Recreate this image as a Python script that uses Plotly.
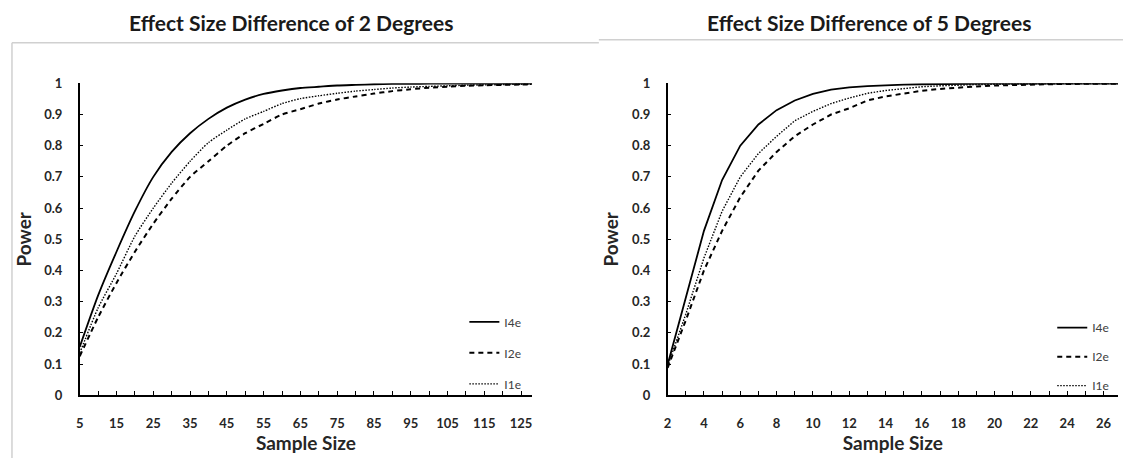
import plotly.graph_objects as go

# ---------------- data ----------------
# Left chart: effect size difference of 2 degrees
n_left = [5, 10, 15, 20, 25, 30, 35, 40, 45, 50, 55, 60, 65, 70, 75, 80, 85, 90,
          95, 100, 105, 110, 115, 120, 125, 128]
i4e_left = [0.155, 0.32, 0.46, 0.59, 0.70, 0.78, 0.84, 0.886, 0.922, 0.948, 0.966,
            0.977, 0.985, 0.989, 0.993, 0.995, 0.997, 0.998, 0.998, 0.999, 0.999,
            0.999, 0.999, 0.999, 0.999, 0.999]
i2e_left = [0.125, 0.25, 0.36, 0.46, 0.55, 0.63, 0.70, 0.75, 0.80, 0.84, 0.87,
            0.90, 0.917, 0.935, 0.948, 0.958, 0.967, 0.975, 0.981, 0.986, 0.989,
            0.992, 0.994, 0.995, 0.996, 0.997]
i1e_left = [0.135, 0.28, 0.39, 0.51, 0.60, 0.68, 0.75, 0.81, 0.85, 0.886, 0.91,
            0.935, 0.951, 0.96, 0.968, 0.975, 0.98, 0.985, 0.988, 0.99, 0.992,
            0.994, 0.995, 0.996, 0.997, 0.997]

# Right chart: effect size difference of 5 degrees
n_right = list(range(2, 28))
i4e_right = [0.098, 0.31, 0.527, 0.69, 0.80, 0.868, 0.914, 0.945, 0.966, 0.98,
             0.987, 0.991, 0.994, 0.996, 0.997, 0.998, 0.998, 0.999, 0.999, 0.999,
             0.999, 0.999, 0.999, 0.999, 0.999, 0.999]
i2e_right = [0.088, 0.24, 0.40, 0.527, 0.635, 0.72, 0.78, 0.83, 0.868, 0.90,
             0.92, 0.945, 0.958, 0.968, 0.976, 0.982, 0.987, 0.99, 0.993, 0.995,
             0.996, 0.997, 0.998, 0.998, 0.999, 0.999]
i1e_right = [0.093, 0.26, 0.44, 0.59, 0.70, 0.775, 0.83, 0.88, 0.91, 0.935,
             0.953, 0.968, 0.977, 0.984, 0.989, 0.992, 0.995, 0.996, 0.997, 0.998,
             0.998, 0.999, 0.999, 0.999, 0.999, 0.999]

series_names = ["I4e", "I2e", "I1e"]
dash_styles = ["solid", "5px,4px", "1.5px,1.5px"]
line_widths = [1.8, 2.0, 1.4]

titles = ["Effect Size Difference of 2 Degrees", "Effect Size Difference of 5 Degrees"]

# ---------------- figure ----------------
W, H = 1123, 466
fig = go.Figure()

left_vals = [i4e_left, i2e_left, i1e_left]
right_vals = [i4e_right, i2e_right, i1e_right]

for k in range(3):
    fig.add_trace(go.Scatter(
        x=n_left, y=left_vals[k], name=series_names[k], mode="lines",
        line=dict(color="black", width=line_widths[k], dash=dash_styles[k], shape="spline", smoothing=0.6),
        xaxis="x", yaxis="y", legend="legend", legendgroup="L" + str(k)))
for k in range(3):
    fig.add_trace(go.Scatter(
        x=n_right, y=right_vals[k], name=series_names[k], mode="lines",
        line=dict(color="black", width=line_widths[k], dash=dash_styles[k]),
        xaxis="x2", yaxis="y2", legend="legend2", legendgroup="R" + str(k)))

tickfont = dict(family="Lato", size=13, color="#262626", weight="bold")
titlefont = dict(family="Lato", size=19, color="#262626", weight="bold")

ydom = [1 - 401 / H, 1 - 78 / H]

def yaxis_cfg():
    return dict(domain=ydom, range=[0, 1], dtick=0.1, tick0=0,
                showline=True, linecolor="black", linewidth=1.5,
                ticks="inside", ticklen=4, tickcolor="black", tickwidth=1.2,
                showgrid=False, zeroline=False, tickfont=tickfont,
                ticklabelstandoff=13,
                title=dict(text="Power", font=titlefont, standoff=8))

def xaxis_cfg(rng, t0, dt, mdt, anchor, dom):
    return dict(domain=dom, range=rng, tick0=t0, dtick=dt,
                showline=True, linecolor="black", linewidth=1.5,
                ticks="inside", ticklen=4, tickcolor="black", tickwidth=1.2,
                minor=dict(dtick=mdt, tick0=t0, ticks="inside", ticklen=4,
                           tickcolor="black", tickwidth=1.2),
                showgrid=False, zeroline=False, tickfont=tickfont, ticklabelstandoff=15,
                title=dict(text="Sample Size", font=titlefont, standoff=6),
                anchor=anchor)

fig.update_layout(
    width=W, height=H,
    margin=dict(l=0, r=0, t=0, b=0),
    paper_bgcolor="white", plot_bgcolor="white",
    showlegend=True,
    xaxis=xaxis_cfg([5, 128], 5, 10, 5, "y", [76 / W, 530 / W]),
    yaxis=dict(anchor="x", **yaxis_cfg()),
    xaxis2=xaxis_cfg([2, 26.8], 2, 2, 1, "y2", [666 / W, 1118 / W]),
    yaxis2=dict(anchor="x2", **yaxis_cfg()),
    legend=dict(x=462 / W, y=1 - 310 / H, xanchor="left", yanchor="top",
                bgcolor="rgba(0,0,0,0)", font=dict(family="Lato", size=12, color="#404040"),
                tracegroupgap=12, itemwidth=30),
    legend2=dict(x=1052 / W, y=1 - 316 / H, xanchor="left", yanchor="top",
                 bgcolor="rgba(0,0,0,0)", font=dict(family="Lato", size=12, color="#404040"),
                 tracegroupgap=10, itemwidth=30),
    annotations=[
        dict(text=titles[0], x=288 / W, y=1 - 15 / H, xref="paper", yref="paper",
             showarrow=False, xanchor="center", yanchor="middle",
             font=dict(family="Lato", size=21, color="#1a1a1a", weight="bold")),
        dict(text=titles[1], x=868 / W, y=1 - 15 / H, xref="paper", yref="paper",
             showarrow=False, xanchor="center", yanchor="middle",
             font=dict(family="Lato", size=21, color="#1a1a1a", weight="bold")),
    ],
    shapes=[
        dict(type="line", xref="paper", yref="paper", x0=8 / W, x1=597 / W,
             y0=1 - 36 / H, y1=1 - 36 / H, line=dict(color="#d0d0d0", width=1.5)),
        dict(type="line", xref="paper", yref="paper", x0=8 / W, x1=8 / W,
             y0=0, y1=1 - 36 / H, line=dict(color="#d0d0d0", width=1.5)),
        dict(type="line", xref="paper", yref="paper", x0=597 / W, x1=1,
             y0=1 - 33 / H, y1=1 - 33 / H, line=dict(color="#d0d0d0", width=1.5)),
    ],
)

fig.write_html("out.html")
